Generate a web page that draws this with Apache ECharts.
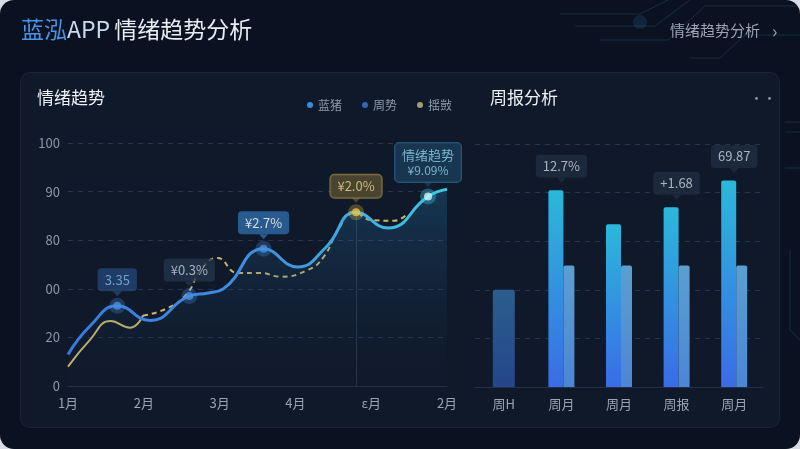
<!DOCTYPE html>
<html><head><meta charset="utf-8">
<script src="https://cdn.jsdelivr.net/npm/echarts@6/dist/echarts.min.js"></script>
<style>
html,body{margin:0;padding:0;background:#d9dee6;}
#wrap{position:relative;width:800px;height:449px;border-radius:14px;overflow:hidden;background:#0a1120;}
#card{position:absolute;left:20px;top:72px;width:758px;height:354px;border-radius:10px;background:#101929;border:1px solid rgba(255,255,255,0.05);}
#c{position:absolute;left:0;top:0;width:800px;height:449px;}
</style>
</head><body><div id="wrap"><div id="card"></div><div id="c"></div></div>
<script>
// ---- data ----
const monthLabels = ['1月', '2月', '3月', '4月', 'ε月', '2月'];
const yTickLabels = ['0', '20', '00', '80', '90', '100'];

const blueX = [0, 0.3, 0.65, 1.08, 1.6, 1.85, 2.05, 2.58, 3.03, 3.4, 3.8, 4.22, 4.75, 5.0];
const blueY = [13, 25, 33, 27, 37, 38.3, 40, 56.5, 49, 57, 71.5, 65, 78, 81];

const goldSolidX = [0, 0.29, 0.56, 0.82, 0.99];
const goldSolidY = [8, 19, 26.7, 24, 29];
const goldDashX = [0.99, 1.31, 1.57, 1.75, 1.97, 2.24, 2.54, 2.8, 3.16, 3.37, 3.56, 3.77, 4.0, 4.3, 4.48];
const goldDashY = [29, 32, 38, 47.7, 52.7, 46.5, 46.5, 45, 47.7, 53, 64, 71.6, 68.3, 68, 71];

const highlightX = [0.65, 1.6, 2.58, 3.8, 4.75];
const highlightY = [33, 37, 56.5, 71.5, 78];
const highlightText = ['3.35', '¥0.3%', '¥2.7%', '¥2.0%', '{t|情绪趋势}\n{v|¥9.09%}'];

const weekCats = ['周H', '周月', '周月', '周报', '周月'];
const weekMain = [null, 81, 67, 74, 85];
const weekBase = [null, 50, 50, 50, 50];
const weekFirst = [40, null, null, null, null];
const weekCalloutText = [null, '12.7%', null, '+1.68', '69.87'];

// ---- styles ----
const FONT = "'Noto Sans CJK SC', 'Noto Sans', sans-serif";
const calloutStyles = [
  { bg: 'rgba(38,78,128,0.85)', color: '#80b8f0', border: 'rgba(0,0,0,0)' },
  { bg: '#23334a', color: '#c4d0de', border: 'rgba(0,0,0,0)' },
  { bg: '#2e6aa6', color: '#ffffff', border: 'rgba(0,0,0,0)' },
  { bg: '#574f31', color: '#ecd590', border: '#9a8646' },
  { bg: '#1b3d5a', color: '#90d4ee', border: '#2c6386' }
];
const markerStyles = [
  { c: '#4a8ee0', h: 'rgba(74,142,224,0.35)' },
  { c: '#4a8ee0', h: 'rgba(74,142,224,0.35)' },
  { c: '#4a8ee0', h: 'rgba(74,142,224,0.35)' },
  { c: '#e8c44c', h: 'rgba(232,196,76,0.35)' },
  { c: '#d2f6ff', h: 'rgba(60,200,230,0.45)' }
];

const zip = (xs, ys) => xs.map((x, i) => [x, ys[i]]);
const pointerPath = 'path://M0,0 L10,0 L5,6 Z';

const chart = echarts.init(document.getElementById('c'), null, { renderer: 'canvas' });

const circuit = [
  [[560, 14], [640, 14], [668, 0]],
  [[575, 26], [655, 26], [690, 0]],
  [[600, 40], [668, 40], [705, 6], [800, 6]],
  [[690, 58], [720, 58], [745, 35], [800, 35]],
  [[785, 122], [800, 122]],
  [[785, 132], [800, 132]],
  [[785, 168], [800, 168]],
  [[790, 250], [790, 330], [800, 340]]
].map(pts => ({
  type: 'polyline', silent: true,
  shape: { points: pts },
  style: { stroke: 'rgba(70,150,200,0.22)', lineWidth: 1, fill: null }
}));

const option = {
  backgroundColor: 'transparent',
  textStyle: { fontFamily: FONT },
  animation: false,
  title: {
    left: 21, top: 18, padding: 0,
    text: '{a|蓝泓}{b|APP} {c|情绪趋势分析}',
    textStyle: {
      rich: {
        a: { fontSize: 23, color: '#4b93e4', fontFamily: FONT, fontWeight: 'normal' },
        b: { fontSize: 23, color: '#c9daf0', fontFamily: FONT, fontWeight: 'normal' },
        c: { fontSize: 23, color: '#e8edf4', fontFamily: FONT, fontWeight: 'normal' }
      }
    }
  },
  graphic: [
    ...circuit,
    { type: 'circle', silent: true, shape: { cx: 640, cy: 22, r: 7 }, style: { fill: 'rgba(60,130,180,0.18)' } },
    { type: 'text', left: 670, top: 23, style: { text: '情绪趋势分析', fontSize: 15, fill: '#9ba5b4', fontFamily: FONT } },
    { type: 'text', left: 772, top: 22, style: { text: '›', fontSize: 18, fill: '#9ba5b4', fontFamily: FONT } },
    { type: 'text', left: 37, top: 89, style: { text: '情绪趋势', fontSize: 17, fill: '#eef2f7', fontFamily: FONT, fontWeight: 'normal' } },
    { type: 'text', left: 490, top: 89, style: { text: '周报分析', fontSize: 17, fill: '#eef2f7', fontFamily: FONT, fontWeight: 'normal' } },
    { type: 'text', left: 750, top: 92, style: { text: '··', fontSize: 13, fill: '#8d97a8', fontFamily: FONT } }
  ],
  legend: {
    left: 302, top: 94, icon: 'circle', itemWidth: 6, itemHeight: 6, itemGap: 20,
    textStyle: { color: '#8f99aa', fontSize: 12, fontFamily: FONT },
    data: ['蓝猪', '周势', '揺敱']
  },
  grid: [
    { left: 68, top: 143, width: 379, height: 243 },
    { left: 475, top: 144, width: 288, height: 243 }
  ],
  xAxis: [
    { gridIndex: 0, type: 'value', min: 0, max: 5, interval: 1,
      axisLine: { show: true, lineStyle: { color: '#243047' } }, axisTick: { show: false }, splitLine: { show: false },
      axisLabel: { color: '#9aa3b3', fontSize: 13, margin: 11, formatter: v => monthLabels[Math.round(v)] ?? '' } },
    { gridIndex: 1, type: 'category', data: weekCats,
      axisLine: { show: true, lineStyle: { color: '#243047' } }, axisTick: { show: false },
      axisLabel: { color: '#9aa3b3', fontSize: 13, margin: 11 } },
    { gridIndex: 1, type: 'category', data: weekCats, show: false }
  ],
  yAxis: [
    { gridIndex: 0, type: 'value', min: 0, max: 100, interval: 20,
      axisLine: { show: false }, axisTick: { show: false },
      axisLabel: { color: '#8d97a8', fontSize: 13, margin: 8, formatter: v => yTickLabels[Math.round(v / 20)] },
      splitLine: { lineStyle: { color: '#27334a', type: [5, 5] } } },
    { gridIndex: 1, type: 'value', min: 0, max: 100, interval: 20,
      axisLine: { show: false }, axisTick: { show: false }, axisLabel: { show: false },
      splitLine: { lineStyle: { color: '#27334a', type: [5, 5] } } }
  ],
  series: [
    { name: '揺敱', type: 'line', xAxisIndex: 0, yAxisIndex: 0, smooth: 0.5, symbol: 'none', z: 3,
      data: zip(goldSolidX, goldSolidY),
      itemStyle: { color: '#a39d74' }, lineStyle: { color: '#c9b66c', width: 2 } },
    { name: '揺敱', type: 'line', xAxisIndex: 0, yAxisIndex: 0, smooth: 0.5, symbol: 'none', z: 3,
      data: zip(goldDashX, goldDashY),
      itemStyle: { color: '#a39d74' }, lineStyle: { color: '#c9b66c', width: 2, type: [5, 4] },
      markLine: { silent: true, symbol: 'none', label: { show: false },
        lineStyle: { color: 'rgba(150,170,200,0.18)', width: 1, type: 'solid' },
        data: [[{ coord: [highlightX[3], highlightY[3]] }, { coord: [highlightX[3], 0] }]] } },
    { name: '蓝猪', type: 'line', xAxisIndex: 0, yAxisIndex: 0, smooth: 0.5, symbol: 'none', z: 4,
      data: zip(blueX, blueY),
      itemStyle: { color: '#2f8fe0' },
      lineStyle: { width: 3, color: new echarts.graphic.LinearGradient(0, 0, 1, 0, [
        { offset: 0, color: '#3b78e0' }, { offset: 0.5, color: '#3f8fe2' }, { offset: 1, color: '#3cc9de' }]) },
      areaStyle: { color: new echarts.graphic.LinearGradient(0, 0, 0, 1, [
        { offset: 0, color: 'rgba(40,140,200,0.38)' }, { offset: 1, color: 'rgba(20,50,90,0.04)' }]) } },
    { name: '周势', type: 'scatter', xAxisIndex: 0, yAxisIndex: 0, symbolSize: 16, z: 5,
      itemStyle: { color: '#3a7bdc' },
      data: highlightX.map((x, i) => ({ value: [x, highlightY[i]], itemStyle: { color: markerStyles[i].h } })) },
    { name: 'dots', type: 'scatter', xAxisIndex: 0, yAxisIndex: 0, symbolSize: 8, z: 6,
      data: highlightX.map((x, i) => ({ value: [x, highlightY[i]], itemStyle: { color: markerStyles[i].c } })) },
    { name: 'callouts', type: 'scatter', xAxisIndex: 0, yAxisIndex: 0, z: 7,
      symbol: pointerPath, symbolSize: [9, 5], symbolOffset: [0, -12],
      data: highlightX.map((x, i) => ({
        value: [x, highlightY[i]],
        itemStyle: { color: calloutStyles[i].bg },
        label: {
          show: true, position: 'top', distance: 0,
          formatter: highlightText[i],
          color: calloutStyles[i].color, fontSize: 13, lineHeight: 15, fontFamily: FONT,
          backgroundColor: calloutStyles[i].bg, borderColor: calloutStyles[i].border, borderWidth: 1,
          borderRadius: 4, padding: [4, 7],
          rich: { t: { fontSize: 13, lineHeight: 16, color: calloutStyles[i].color, fontFamily: FONT },
                  v: { fontSize: 12, lineHeight: 15, color: calloutStyles[i].color, fontFamily: FONT } }
        }
      })) },
    { name: 'main', type: 'bar', xAxisIndex: 1, yAxisIndex: 1, barWidth: 15, barGap: '0%', z: 3,
      data: weekMain,
      itemStyle: { borderRadius: [2, 2, 0, 0], color: new echarts.graphic.LinearGradient(0, 0, 0, 1, [
        { offset: 0, color: '#2bb8da' }, { offset: 1, color: '#3a6ce6' }]) } },
    { name: 'base', type: 'bar', xAxisIndex: 1, yAxisIndex: 1, barWidth: 11, barGap: '0%', z: 3,
      data: weekBase,
      itemStyle: { borderRadius: [2, 2, 0, 0], color: new echarts.graphic.LinearGradient(0, 0, 0, 1, [
        { offset: 0, color: '#5b9fd0' }, { offset: 1, color: '#4b86d6' }]) } },
    { name: 'first', type: 'bar', xAxisIndex: 2, yAxisIndex: 1, barWidth: 22, z: 3,
      data: weekFirst,
      itemStyle: { borderRadius: [2, 2, 0, 0], color: new echarts.graphic.LinearGradient(0, 0, 0, 1, [
        { offset: 0, color: '#2b5e8e' }, { offset: 1, color: '#24468a' }]) } },
    { name: 'barCallouts', type: 'scatter', xAxisIndex: 1, yAxisIndex: 1, z: 7,
      symbol: pointerPath, symbolSize: [9, 5], symbolOffset: [0, -10],
      itemStyle: { color: '#1f2c40' },
      data: weekCalloutText.map((t, i) => t == null ? null : ({
        value: [i, weekMain[i]],
        label: { show: true, position: 'top', distance: 0, formatter: t,
          color: '#cdd6e2', fontSize: 13, lineHeight: 15, fontFamily: FONT,
          backgroundColor: '#1f2c40', borderRadius: 4, padding: [4, 7] }
      })).filter(d => d) }
  ]
};
chart.setOption(option);
</script></body></html>
